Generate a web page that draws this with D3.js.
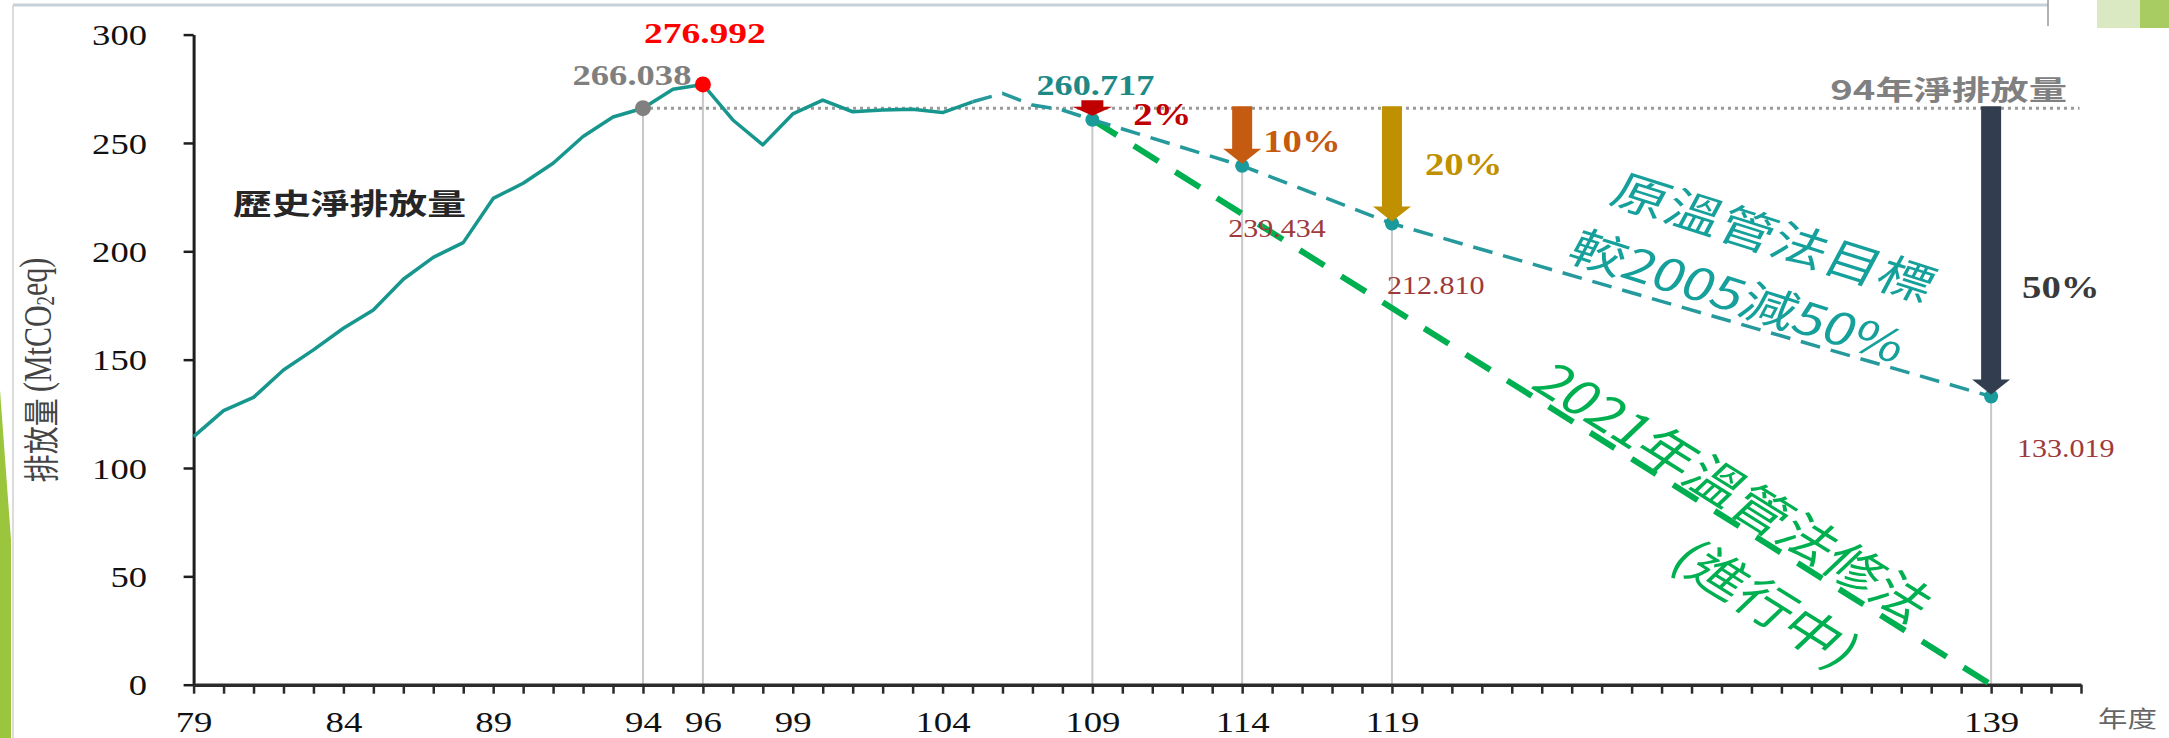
<!DOCTYPE html>
<html><head><meta charset="utf-8">
<script src="https://cdn.jsdelivr.net/npm/d3@7"></script>
<style>html,body{margin:0;padding:0;background:#fff;overflow:hidden}</style>
</head><body><svg id="c" width="2169" height="738"></svg>
<script>
// ---------- data ----------
const histYears  = [79,80,81,82,83,84,85,86,87,88,89,90,91,92,93,94,95,96,97,98,99,100,101,102,103,104,105];
const histValues = [114.5,126.5,132.6,145.2,154.5,164.5,172.9,187.1,197.2,204.0,224.4,231.4,240.6,253.0,262.0,266.038,274.8,276.992,260.6,249.1,263.4,269.8,264.4,265.2,265.5,264.0,269.0];
const pathYears  = [105,106,107,108,109,114,119,139];
const pathValues = [269.0,272.9,267.5,265.2,260.717,239.434,212.810,133.019];
const revisedYears  = [109,139];
const revisedValues = [260.717,0];
const baseYear = 94, baseValue = 266.038;
const peakYear = 96, peakValue = 276.992;
const targetYears  = [109,114,119,139];
const targetValues = [260.717,239.434,212.810,133.019];
const targetCuts   = ["2%","10%","20%","50%"];
const xTickLabels  = [79,84,89,94,96,99,104,109,114,119,139];
const yTickValues  = [0,50,100,150,200,250,300];

// ---------- setup ----------
const svg = d3.select("#c");
const x = d3.scaleLinear().domain([79,142]).range([193.6,2081]);
const y = d3.scaleLinear().domain([0,300]).range([684.7,34.6]);
const SERIF = "'Liberation Serif','Times New Roman',serif";
const SANS = "'Noto Sans CJK TC','Noto Sans',sans-serif";

function T(g, px, py, str, o) {
  const t = g.append("text")
    .attr("transform", `translate(${px},${py}) scale(${o.sx||1.25},1)` + (o.rot ? ` rotate(${o.rot})` : ""))
    .attr("text-anchor", o.anchor || "start")
    .attr("font-family", o.family || SERIF)
    .attr("font-size", o.size || 28)
    .attr("font-weight", o.weight || "normal")
    .attr("fill", o.fill || "#000")
    .text(str);
  if (o.central) t.attr("dominant-baseline", "central");
  return t;
}

// ---------- decorations ----------
svg.append("line").attr("x1",13).attr("x2",2048).attr("y1",5).attr("y2",5).attr("stroke","#c6d1d9").attr("stroke-width",3);
svg.append("line").attr("x1",13).attr("x2",13).attr("y1",5).attr("y2",738).attr("stroke","#d0d0d0").attr("stroke-width",1.5);
svg.append("line").attr("x1",2048).attr("x2",2048).attr("y1",0).attr("y2",26).attr("stroke","#9a9a9a").attr("stroke-width",1.5);
svg.append("rect").attr("x",2097).attr("y",0).attr("width",72).attr("height",28).attr("fill","#dbe9c2");
svg.append("rect").attr("x",2140).attr("y",0).attr("width",29).attr("height",28).attr("fill","#a9cc62");
svg.append("polygon").attr("points","0,390 11,540 11,738 0,738").attr("fill","#9bc53d");

// ---------- drop lines ----------
const drops = [[baseYear,baseValue],[peakYear,peakValue]].concat(targetYears.map((d,i)=>[d,targetValues[i]]));
svg.append("g").selectAll("line").data(drops).join("line")
  .attr("x1",d=>x(d[0])).attr("x2",d=>x(d[0]))
  .attr("y1",d=>y(d[1])).attr("y2",y(0))
  .attr("stroke","#c8c8c8").attr("stroke-width",2);

// ---------- 94 baseline dotted ----------
svg.append("line").attr("x1",x(baseYear)).attr("x2",x(141.95))
  .attr("y1",y(baseValue)).attr("y2",y(baseValue))
  .attr("stroke","#9a9a9a").attr("stroke-width",3).attr("stroke-dasharray","3,4");

// ---------- axes ----------
const yAxis = svg.append("g").attr("transform",`translate(${x(79)},0)`)
  .call(d3.axisLeft(y).tickValues(yTickValues).tickSize(10).tickSizeOuter(0).tickPadding(0));
yAxis.select(".domain").attr("stroke","#1e1e1e").attr("stroke-width",3);
yAxis.selectAll(".tick line").attr("stroke","#1e1e1e").attr("stroke-width",2.5);
yAxis.selectAll(".tick text").attr("x",null).attr("dy","0.34em")
  .attr("transform","translate(-46.6,0) scale(1.22,1)")
  .attr("font-family",SERIF).attr("font-size",30).attr("fill","#111");

const labelSet = new Set(xTickLabels);
const xAxis = svg.append("g").attr("transform",`translate(0,${y(0)})`)
  .call(d3.axisBottom(x).tickValues(d3.range(79,143)).tickSize(9).tickSizeOuter(0)
    .tickFormat(d => labelSet.has(d) ? d : ""));
xAxis.select(".domain").attr("stroke","#2b2b2b").attr("stroke-width",3.5);
xAxis.selectAll(".tick line").attr("stroke","#2b2b2b").attr("stroke-width",2.5);
xAxis.selectAll(".tick text").attr("y",null).attr("dy",null)
  .attr("transform","translate(0,47.5) scale(1.27,1)")
  .attr("font-family",SERIF).attr("font-size",29).attr("fill","#111");

T(svg, 2098, 727, "年度", {family:SANS, size:23, sx:1.28, fill:"#666"});

// y-axis title
const yt = svg.append("text")
  .attr("transform","translate(38,370) scale(1.3,1) rotate(-90)")
  .attr("text-anchor","middle").attr("dominant-baseline","central")
  .attr("font-family",SERIF).attr("font-size",30).attr("fill","#444");
yt.append("tspan").attr("font-family",SANS).attr("font-size",28).text("排放量 ");
yt.append("tspan").text("(MtCO");
yt.append("tspan").attr("font-size",19).attr("dy","0.3em").text("2");
yt.append("tspan").attr("dy","-0.3em").text("eq)");

// ---------- lines ----------
const line = d3.line().x(d=>x(d[0])).y(d=>y(d[1]));
svg.append("path").datum(revisedYears.map((d,i)=>[d,revisedValues[i]]))
  .attr("d",line).attr("fill","none").attr("stroke","#00b050").attr("stroke-width",6)
  .attr("stroke-dasharray","29,20");
svg.append("path").datum(pathYears.map((d,i)=>[d,pathValues[i]]))
  .attr("d",line).attr("fill","none").attr("stroke","#26999c").attr("stroke-width",3.5)
  .attr("stroke-dasharray","20,11");
svg.append("path").datum(histYears.map((d,i)=>[d,histValues[i]]))
  .attr("d",line).attr("fill","none").attr("stroke","#17968e").attr("stroke-width",3.5)
  .attr("stroke-linejoin","round");

// ---------- dots ----------
svg.append("g").selectAll("circle").data(targetYears).join("circle")
  .attr("cx",d=>x(d)).attr("cy",(d,i)=>y(targetValues[i])).attr("r",7).attr("fill","#1a9a9a");
svg.append("circle").attr("cx",x(baseYear)).attr("cy",y(baseValue)).attr("r",8).attr("fill","#808080");
svg.append("circle").attr("cx",x(peakYear)).attr("cy",y(peakValue)).attr("r",8).attr("fill","#ff0000");

// ---------- arrows ----------
const arrowColors = ["#c00000","#c55a11","#bf9000","#323e4f"];
function arrowPath(cx, yTop, yTip, sw, hw, hl) {
  return `M${cx-sw/2},${yTop}L${cx+sw/2},${yTop}L${cx+sw/2},${yTip-hl}L${cx+hw/2},${yTip-hl}L${cx},${yTip}L${cx-hw/2},${yTip-hl}L${cx-sw/2},${yTip-hl}Z`;
}
svg.append("g").selectAll("path").data(targetYears).join("path")
  .attr("d",(d,i)=> i===0
     ? arrowPath(x(d), y(baseValue)-8, y(targetValues[i])-4, 22, 40, 9)
     : arrowPath(x(d), y(baseValue)-2, y(targetValues[i])-2, 20, 38, 15))
  .attr("fill",(d,i)=>arrowColors[i]);

// ---------- value labels ----------
T(svg, x(baseYear)-11, y(baseValue)-23, "266.038", {anchor:"middle", size:30, weight:"bold", sx:1.22, fill:"#7f7f7f"});
T(svg, x(peakYear)+2, y(peakValue)-41, "276.992", {anchor:"middle", size:30, weight:"bold", sx:1.25, fill:"#ff0000"});
T(svg, x(targetYears[0])+3, y(targetValues[0])-25, "260.717", {anchor:"middle", size:29, weight:"bold", sx:1.25, fill:"#1d8a86"});
const cutColors = ["#c00000","#c55a11","#bf9000","#3a3a3a"];
const cutPos = [[41,125],[21,152],[33,175],[31,298]];
targetCuts.forEach((c,i)=>{
  T(svg, x(targetYears[i])+cutPos[i][0], cutPos[i][1], c, {size:31, weight:"bold", sx:1.25, fill:cutColors[i]});
});
const valPos = [null,[-14,71],[-5,70],[26,61]];
[1,2,3].forEach(i=>{
  T(svg, x(targetYears[i])+valPos[i][0], y(targetValues[i])+valPos[i][1],
    targetValues[i].toFixed(3), {size:25, sx:1.2, fill:"#9e3a3c"});
});

// ---------- text annotations ----------
T(svg, 233, 215, "歷史淨排放量", {family:SANS, size:29, weight:"bold", sx:1.34, fill:"#262626"});
T(svg, 2067, 100, "94年淨排放量", {family:SANS, size:27, weight:"bold", sx:1.42, fill:"#808080", anchor:"end"});

T(svg, x(131.8), y(207.5), "原溫管法目標", {family:SANS, size:44, sx:1.3, rot:22.3, anchor:"middle", central:true, fill:"#16a09b"});
T(svg, x(130.6), y(180.3), "較2005減50%", {family:SANS, size:44, sx:1.3, rot:22.3, anchor:"middle", central:true, fill:"#16a09b"});
T(svg, x(130.5), y(89.8), "2021年溫管法修法", {family:SANS, size:46, sx:1.3, rot:39, anchor:"middle", central:true, fill:"#00b050"});
T(svg, x(131.6), y(38.5), "(進行中)", {family:SANS, size:46, sx:1.3, rot:39, anchor:"middle", central:true, fill:"#00b050"});
</script>
</body></html>
